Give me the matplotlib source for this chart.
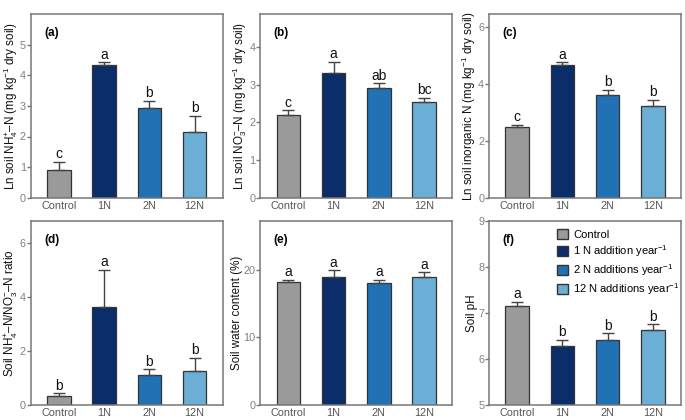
import matplotlib
matplotlib.use("Agg")
import matplotlib.pyplot as plt
from matplotlib.patches import Patch

plt.rcParams['font.family'] = ['Liberation Sans', 'DejaVu Sans']
plt.rcParams['mathtext.fontset'] = 'custom'
plt.rcParams['mathtext.rm'] = 'Liberation Sans'
plt.rcParams['mathtext.it'] = 'Liberation Sans:italic'

groups = ['Control', '1N', '2N', '12N']
colors = ['#9a9a9a', '#0b2d69', '#2171b5', '#6baed6']
legend_labels = ['Control', '1 N addition year$^{-1}$', '2 N additions year$^{-1}$',
                 '12 N additions year$^{-1}$']

nh4 = [0.90, 4.32, 2.93, 2.15]
nh4_err = [0.27, 0.10, 0.24, 0.53]
nh4_let = ['c', 'a', 'b', 'b']

no3 = [2.21, 3.30, 2.90, 2.54]
no3_err = [0.11, 0.31, 0.14, 0.12]
no3_let = ['c', 'a', 'ab', 'bc']

inorg = [2.48, 4.68, 3.63, 3.25]
inorg_err = [0.09, 0.10, 0.18, 0.20]
inorg_let = ['c', 'a', 'b', 'b']

ratio = [0.33, 3.62, 1.12, 1.24]
ratio_err = [0.10, 1.40, 0.21, 0.50]
ratio_let = ['b', 'a', 'b', 'b']

water = [18.2, 19.0, 18.1, 19.0]
water_err = [0.4, 1.0, 0.5, 0.7]
water_let = ['a', 'a', 'a', 'a']

ph = [7.15, 6.28, 6.40, 6.62]
ph_err = [0.09, 0.13, 0.16, 0.13]
ph_let = ['a', 'b', 'b', 'b']

panels = [
    ('(a)', nh4, nh4_err, nh4_let, 'Ln soil NH$_4^{+}$–N (mg kg$^{-1}$ dry soil)', (0, 6), [0, 1, 2, 3, 4, 5], 0),
    ('(b)', no3, no3_err, no3_let, 'Ln soil NO$_3^{-}$–N (mg kg$^{-1}$ dry soil)', (0, 4.88), [0, 1, 2, 3, 4], 0),
    ('(c)', inorg, inorg_err, inorg_let, 'Ln soil inorganic N (mg kg$^{-1}$ dry soil)', (0, 6.48), [0, 2, 4, 6], 0),
    ('(d)', ratio, ratio_err, ratio_let, 'Soil NH$_4^{+}$–N/NO$_3^{-}$–N ratio', (0, 6.83), [0, 2, 4, 6], 0),
    ('(e)', water, water_err, water_let, 'Soil water content (%)', (0, 27.3), [0, 10, 20], 0),
    ('(f)', ph, ph_err, ph_let, 'Soil pH', (5, 9), [5, 6, 7, 8, 9], 5),
]

fig = plt.figure(figsize=(6.85, 4.2), dpi=100)
lefts = [0.045, 0.380, 0.714]
bottoms = [0.529, 0.036]
w, h = 0.280, 0.438

x = range(len(groups))
for i, (tag, vals, errs, lets, ylab, ylim, yticks, base) in enumerate(panels):
    ax = fig.add_axes([lefts[i % 3], bottoms[i // 3], w, h])
    heights = [v - base for v in vals]
    ax.bar(x, heights, bottom=base, width=0.52, color=colors,
           edgecolor='#333333', linewidth=0.9, zorder=2)
    ax.errorbar(x, vals, yerr=[[0] * 4, errs], fmt='none', ecolor='#444444',
                elinewidth=1.0, capsize=4.5, capthick=1.0, zorder=3)
    span = ylim[1] - ylim[0]
    for xi, v, e, l in zip(x, vals, errs, lets):
        ax.text(xi, v + e + span * 0.003, l, ha='center', va='bottom', fontsize=10, color='#111111')
    ax.set_xlim(-0.62, 3.62)
    ax.set_ylim(*ylim)
    ax.set_yticks(yticks)
    ax.set_xticks(list(x))
    ax.set_xticklabels(groups)
    ax.set_ylabel(ylab, fontsize=8.4, color='#111111', labelpad=0)
    ax.text(0.07, 0.93, tag, transform=ax.transAxes, fontsize=8.5, fontweight='bold',
            ha='left', va='top')
    for s in ax.spines.values():
        s.set_color('#777777')
        s.set_linewidth(1.1)
    ax.tick_params(axis='y', colors='#777777', labelcolor='#808080', labelsize=7.8,
                   length=3, width=1, pad=0.5)
    ax.tick_params(axis='x', length=0, labelsize=7.8, labelcolor='#555555', pad=2)
    if tag == '(f)':
        handles = [Patch(facecolor=c, edgecolor='#333333') for c in colors]
        ax.legend(handles, legend_labels, loc='upper left', bbox_to_anchor=(0.32, 0.99),
                  frameon=False, fontsize=8, handlelength=1.0, handleheight=1.0,
                  handletextpad=0.45, labelspacing=0.28, borderaxespad=0.2)

fig.savefig('out.png', dpi=100)
